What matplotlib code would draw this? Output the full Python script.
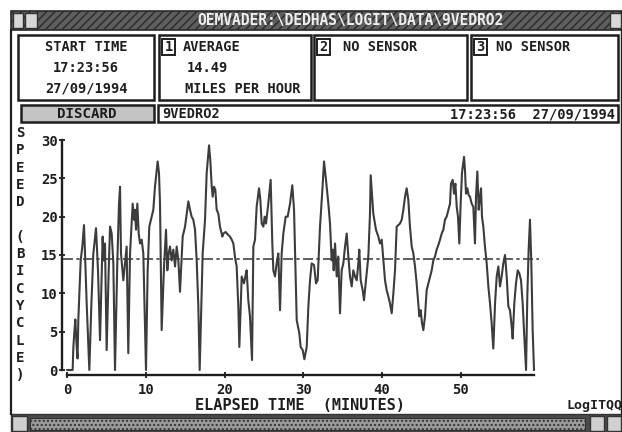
import matplotlib
matplotlib.use("Agg")
import matplotlib.pyplot as plt
from matplotlib.patches import Rectangle

# ---------------- data ----------------
minutes = [0.00, 0.68, 0.77, 0.90, 1.02, 1.19, 1.30, 1.40, 1.70, 1.91, 2.12, 2.25, 2.46, 2.80,
           3.05, 3.31, 3.65, 3.90, 4.16, 4.49, 4.62, 4.79, 5.00, 5.26, 5.43, 5.64, 5.85, 6.06,
           6.36, 6.57, 6.70, 6.82, 7.12, 7.33, 7.54, 7.75, 7.97, 8.31, 8.48, 8.60, 8.73, 8.90,
           9.07, 9.24, 9.45, 9.66, 10.00, 10.21, 10.42, 10.72, 10.93, 11.14, 11.48, 11.65, 11.78,
           11.99, 12.29, 12.54, 12.71, 12.88, 13.05, 13.26, 13.47, 13.69, 13.90, 14.11, 14.32,
           14.66, 14.96, 15.17, 15.38, 15.59, 15.80, 16.01, 16.23, 16.44, 16.65, 16.82, 17.03,
           17.20, 17.50, 17.71, 18.01, 18.17, 18.34, 18.47, 18.64, 18.81, 18.98, 19.19, 19.40,
           19.70, 19.83, 20.12, 20.46, 20.67, 20.89, 21.10, 21.31, 21.52, 21.73, 21.86, 22.16,
           22.45, 22.62, 22.79, 23.00, 23.21, 23.47, 23.64, 23.85, 24.06, 24.36, 24.53, 24.70,
           24.91, 25.08, 25.25, 25.54, 25.84, 26.05, 26.18, 26.39, 26.60, 26.81, 27.03, 27.24,
           27.45, 27.75, 28.00, 28.30, 28.59, 28.81, 28.98, 29.15, 29.48, 29.65, 29.91, 30.12,
           30.42, 30.63, 30.84, 31.05, 31.35, 31.60, 31.81, 32.11, 32.41, 32.62, 32.87, 33.17,
           33.38, 33.59, 33.72, 33.85, 34.02, 34.23, 34.43, 34.65, 34.86, 35.07, 35.29, 35.50,
           35.71, 35.92, 36.14, 36.34, 36.56, 36.77, 36.98, 37.10, 37.28, 37.53, 37.70, 37.95,
           38.25, 38.46, 38.55, 38.88, 39.22, 39.52, 39.73, 39.95, 40.16, 40.37, 40.58, 40.79,
           41.00, 41.22, 41.43, 41.64, 41.85, 42.06, 42.27, 42.49, 42.70, 42.91, 43.12, 43.33,
           43.54, 43.76, 43.97, 44.18, 44.39, 44.60, 44.73, 44.90, 45.07, 45.24, 45.45, 45.66,
           45.88, 46.09, 46.30, 46.51, 46.72, 46.93, 47.15, 47.36, 47.57, 47.78, 47.99, 48.20,
           48.42, 48.63, 48.75, 48.97, 49.14, 49.31, 49.48, 49.64, 49.81, 49.98, 50.15, 50.41,
           50.53, 50.66, 50.83, 51.00, 51.17, 51.38, 51.59, 51.80, 51.93, 52.10, 52.27, 52.44,
           52.57, 52.69, 52.86, 53.07, 53.29, 53.50, 53.71, 53.92, 54.13, 54.35, 54.56, 54.77,
           54.98, 55.19, 55.40, 55.62, 55.83, 56.04, 56.25, 56.46, 56.59, 56.80, 57.01, 57.23,
           57.44, 57.65, 57.86, 58.07, 58.29, 58.45, 58.62, 58.79, 58.96, 59.13, 59.30]
speed = [0, 0, 3.0, 5.0, 6.6, 3.0, 1.5, 6.5, 14.3, 16.1, 18.9, 15.2, 8.7, 0,
         8.3, 15.2, 18.5, 13.0, 3.9, 17.4, 14.3, 16.5, 2.6, 13.0, 18.7, 17.8, 13.9, 0,
         14.3, 21.7, 23.9, 15.2, 11.7, 13.9, 16.1, 2.2, 15.2, 21.7, 19.6, 20.9, 18.3, 21.7,
         17.8, 16.5, 17.0, 15.2, 0, 13.0, 18.7, 20.0, 20.9, 23.9, 27.2, 25.7, 21.7,
         5.2, 13.5, 18.3, 13.0, 15.2, 16.1, 14.3, 15.7, 13.5, 16.1, 14.3, 10.2,
         17.4, 18.7, 20.4, 22.0, 20.9, 20.0, 19.6, 18.3, 14.3, 8.3, 0, 8.3,
         15.2, 19.6, 25.7, 29.3, 27.4, 24.1, 22.6, 23.9, 23.5, 20.9, 20.4, 18.7,
         17.4, 17.8, 18.0, 17.6, 17.4, 17.0, 16.5, 14.7, 13.5, 8.3, 3.0, 12.2,
         11.3, 12.2, 13.0, 9.1, 7.0, 1.3, 16.1, 17.0, 21.3, 23.7, 22.2, 19.1,
         18.7, 20.0, 19.1, 21.7, 24.8, 16.5, 13.0, 12.2, 13.9, 15.2, 7.8, 15.2,
         17.8, 20.0, 20.0, 21.7, 24.1, 20.9, 13.5, 6.5, 4.8, 3.0, 2.6, 1.4,
         3.0, 8.3, 11.7, 13.9, 13.7, 11.3, 11.7, 18.7, 23.5, 27.2, 24.8, 21.7,
         19.1, 14.3, 15.7, 13.0, 16.5, 12.2, 14.8, 7.4, 13.0, 13.9, 16.1, 17.8,
         14.8, 12.2, 10.9, 13.0, 12.2, 11.7, 13.9, 15.7, 11.7, 10.4, 9.1, 11.7,
         14.8, 20.4, 25.4, 20.4, 18.3, 17.4, 16.5, 17.0, 14.3, 11.7, 10.4, 9.6,
         8.7, 7.4, 10.0, 13.0, 18.7, 18.9, 19.1, 19.6, 20.9, 22.6, 23.7, 22.2,
         18.7, 16.1, 15.2, 13.5, 11.3, 8.7, 7.0, 7.8, 6.1, 5.2, 7.0, 10.4,
         11.3, 12.2, 13.0, 14.3, 14.8, 15.7, 16.3, 17.0, 17.8, 18.3, 19.6, 20.0,
         20.9, 21.7, 24.3, 24.8, 23.0, 24.3, 21.3, 20.0, 16.5, 21.7, 25.7, 27.8,
         26.1, 23.0, 23.7, 22.8, 22.6, 21.7, 21.3, 16.5, 22.6, 25.9, 20.9, 22.6,
         23.7, 20.0, 18.7, 16.1, 13.9, 10.9, 8.7, 6.1, 2.8, 8.7, 12.2, 13.5,
         10.9, 12.2, 13.9, 15.0, 12.2, 8.3, 7.8, 5.7, 4.1, 8.7, 11.3, 13.0,
         12.6, 11.7, 8.7, 4.3, 0, 9.6, 15.7, 19.6, 13.9, 5.2, 0]
average_speed = 14.49
x_ticks = [0, 10, 20, 30, 40, 50]
y_ticks = [0, 5, 10, 15, 20, 25, 30]
y_label = "SPEED (BICYCLE)"
x_label = "ELAPSED TIME  (MINUTES)"
title_text = "OEMVADER:\\DEDHAS\\LOGIT\\DATA\\9VEDRO2"

FONT = "DejaVu Sans Mono"
INK = "#1e1e1e"
W, H = 622, 432

fig = plt.figure(figsize=(6.22, 4.32), dpi=100)
fig.patch.set_facecolor("white")

# ---------------- UI overlay in pixel coordinates ----------------
ui = fig.add_axes([0, 0, 1, 1])
ui.set_xlim(0, W)
ui.set_ylim(H, 0)
ui.axis("off")


def box(x0, y0, x1, y1, **kw):
    kw.setdefault("fill", False)
    kw.setdefault("edgecolor", INK)
    kw.setdefault("linewidth", 1.8)
    ui.add_patch(Rectangle((x0, y0), x1 - x0, y1 - y0, **kw))


def txt(x, y, s, size=9.8, ha="left", color=INK, **kw):
    ui.text(x, y, s, fontsize=size, ha=ha, va="center", color=color,
            family=FONT, fontweight="bold", **kw)


# title bar
box(11, 11, 622, 30, fill=True, facecolor="#5e5e5e", edgecolor="#2a2a2a",
    hatch="////", linewidth=1.2)
box(13, 13, 23, 28, fill=True, facecolor="#d8d8d8", edgecolor="#333333", linewidth=1)
box(25, 13, 37, 28, fill=True, facecolor="#d8d8d8", edgecolor="#333333", linewidth=1)
box(610, 13, 621, 28, fill=True, facecolor="#d8d8d8", edgecolor="#333333", linewidth=1)
txt(350, 20, title_text, size=10.5, ha="center", color="#eeeeee")

# window frame
ui.plot([11, 11], [30, 414], color=INK, lw=1.6)
ui.plot([621, 621], [30, 414], color=INK, lw=1.0)

# info boxes
box(18, 35, 154, 100)
box(159, 35, 311, 100)
box(314, 35, 467, 100)
box(471, 35, 618, 100)
txt(86, 47, "START TIME", ha="center")
txt(86, 68, "17:23:56", ha="center")
txt(86, 89, "27/09/1994", ha="center")

for (bx, num) in [(162, "1"), (317, "2"), (474, "3")]:
    box(bx, 39, bx + 13, 55, linewidth=1.4)
    txt(bx + 6.5, 47, num, ha="center")
txt(183, 47, "AVERAGE")
txt(187, 68, f"{average_speed:.2f}")
txt(185, 89, "MILES PER HOUR")
txt(343, 47, "NO SENSOR")
txt(496, 47, "NO SENSOR")

# discard button and file bar
box(21, 105, 154, 122, fill=True, facecolor="#c4c4c4", edgecolor=INK, linewidth=1.8)
txt(87, 114, "DISCARD", ha="center", size=10.2)
box(158, 105, 618, 122)
txt(162, 114, "9VEDRO2")
txt(615, 114, "17:23:56  27/09/1994", ha="right")

# vertical y label
for i, ch in enumerate(y_label):
    if ch != " ":
        txt(20, 133 + i * 17.3, ch, ha="center", size=10.2)

# x label and logo
txt(300, 405, x_label, ha="center", size=11)
txt(566, 405, "LogITQQ", size=9.5)

# bottom bar
box(11, 414, 622, 432, fill=True, facecolor="#4a4a4a", edgecolor="#333333", linewidth=1)
box(30, 418, 585, 430, fill=True, facecolor="#9a9a9a", edgecolor="#333333",
    hatch="....", linewidth=0.8)
box(12, 416, 27, 431, fill=True, facecolor="#d0d0d0", edgecolor="#333333", linewidth=1)
box(590, 416, 604, 431, fill=True, facecolor="#d0d0d0", edgecolor="#333333", linewidth=1)
box(607, 416, 621, 431, fill=True, facecolor="#d0d0d0", edgecolor="#333333", linewidth=1)

# ---------------- chart ----------------
x_left, x_right = 67.3, 534.0
y_top, y_bottom = 140.0, 370.0
ax = fig.add_axes([x_left / W, (H - y_bottom) / H,
                   (x_right - x_left) / W, (y_bottom - y_top) / H])
ax.set_facecolor("none")
ax.set_xlim(0, 59.3)
ax.set_ylim(0, 30)

ax.plot(minutes, speed, color="#3c3c3c", lw=1.5, clip_on=False, zorder=3)
ax.axhline(average_speed, xmin=-0.01, xmax=1.01, color="#444444", lw=1.2,
           linestyle=(0, (6, 2, 2, 2)), clip_on=False, zorder=2)

for side in ("top", "right"):
    ax.spines[side].set_visible(False)
ax.spines["left"].set_position(("outward", 3.5))
ax.spines["bottom"].set_position(("outward", 3.6))
for side in ("left", "bottom"):
    ax.spines[side].set_color(INK)
    ax.spines[side].set_linewidth(1.7)

ax.set_xticks(x_ticks)
ax.set_xticklabels([str(v) for v in x_ticks])
ax.set_yticks(y_ticks)
ax.set_yticklabels([str(v) for v in y_ticks])
ax.tick_params(direction="inout", length=5, width=1.3, color=INK, labelcolor=INK)
ax.tick_params(axis="x", pad=3)
ax.tick_params(axis="y", pad=1)
for lab in ax.get_xticklabels() + ax.get_yticklabels():
    lab.set_fontfamily(FONT)
    lab.set_fontweight("bold")
    lab.set_fontsize(10)

fig.savefig("out.png", dpi=100, facecolor="white")
